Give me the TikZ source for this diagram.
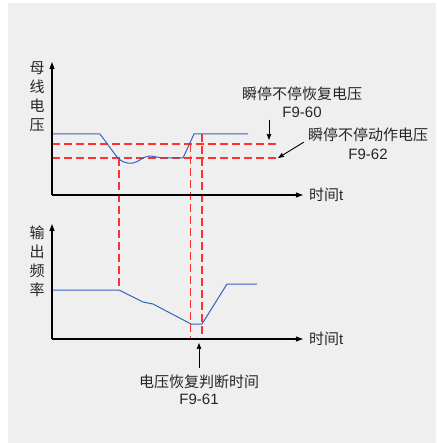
\documentclass[tikz,border=0pt]{standalone}
\usepackage{fontspec}
\setmainfont{Liberation Sans}
\newfontfamily\cjk{Noto Sans CJK SC}
\usepackage{xcolor}
\usetikzlibrary{arrows,arrows.meta,positioning}
\definecolor{panelgray}{HTML}{EFEFEF}
\definecolor{curveblue}{HTML}{3563C0}
\definecolor{guidered}{HTML}{FF3030}

\begin{document}
\begin{tikzpicture}[
    x=1pt, y=-1pt,
    axisline/.style={->, line width=1.2pt, >={Stealth[length=7pt, width=5pt, inset=0.5pt]}},
    arrow/.style={->, line width=0.9pt, >={Stealth[length=6pt, width=4.5pt, inset=0.5pt]}},
    bluecurve/.style={curveblue, line width=1pt, line join=round},
    redguide/.style={guidered, line width=1.3pt, dash pattern=on 8pt off 4pt},
    lbl/.style={inner sep=0pt, text=black!85, font=\fontsize{15}{18}\selectfont},
    cjklbl/.style={lbl, font=\cjk\fontsize{15}{18}\selectfont},
    vlbl/.style={lbl, align=center, font=\cjk\fontsize{15}{19}\selectfont}
]
    \useasboundingbox (0,0) rectangle (436,443);
    \fill[panelgray] (8,3) rectangle (436,443);

    % Axes
    \coordinate (o1) at (52,195);
    \coordinate (y1) at (52,62);
    \coordinate (x1) at (303,195);
    \coordinate (o2) at (52,339);
    \coordinate (y2) at (52,224);
    \coordinate (x2) at (303,339);

    % Guide lines
    \coordinate (s60) at (52,144);
    \coordinate (e60) at (278,144);
    \coordinate (s62) at (52,158);
    \coordinate (e62) at (278,158);
    \draw[redguide] (s60) -- (e60);
    \draw[redguide] (s62) -- (e62);
    \draw[redguide] (119,158) -- (119,290);
    \draw[redguide] (190.7,144) -- (190.7,339);
    \draw[redguide] (202,134) -- (202,339);

    % Bus voltage
    \draw[bluecurve] (52,134) -- (100,134) -- (114,153)
        .. controls (120,162) and (126,164) .. (133,163)
        .. controls (139,162) and (142,157) .. (149,156)
        .. controls (155,156) and (158,158) .. (165,158)
        -- (183,158) -- (194,134) -- (248,134);

    % Output frequency
    \draw[bluecurve] (52,290) -- (119,290) -- (143,302) -- (153,304)
        -- (191,324) -- (202,324) -- (227,284) -- (257,284);

    \draw[axisline] (o1) -- (y1);
    \draw[axisline] (o1) -- (x1);
    \draw[axisline] (o2) -- (y2);
    \draw[axisline] (o2) -- (x2);

    % Labels
    \node[vlbl] (ylab1) at (37,97) {母\\线\\电\\压};
    \node[vlbl] (ylab2) at (37,261.5) {输\\出\\频\\率};
    \node[lbl, anchor=west] (t1) at ([xshift=6pt]x1) {{\cjk 时间}t};
    \node[lbl, anchor=west] (t2) at ([xshift=6pt]x2) {{\cjk 时间}t};

    \node[cjklbl] (lv60) at (302,94) {瞬停不停恢复电压};
    \node[lbl] (f60) at (302,112) {F9-60};
    \node[cjklbl] (lv62) at (368,135) {瞬停不停动作电压};
    \node[lbl] (f62) at (368,154) {F9-62};
    \node[cjklbl] (lt61) at (199,382) {电压恢复判断时间};
    \node[lbl] (f61) at (199,399) {F9-61};

    \coordinate (p60) at (269,140);
    \coordinate (p61) at (199,343);
    \draw[arrow] ([yshift=-2pt]f60.south -| p60) -- (p60);
    \draw[arrow] ([xshift=-4pt]lv62.south west) -- (e62);
    \draw[arrow] ([yshift=7pt]lt61.north) -- (p61);
\end{tikzpicture}
\end{document}
